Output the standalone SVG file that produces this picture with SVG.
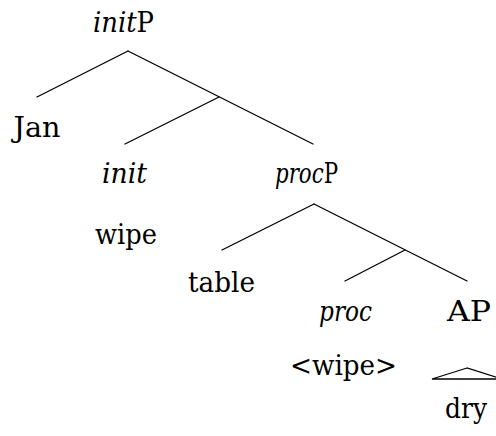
<svg xmlns="http://www.w3.org/2000/svg" width="496" height="436" viewBox="0 0 496 436">
  <style>
    text { font-family: "DejaVu Serif", serif; font-size: 27px; fill: #000; text-anchor: middle; }
    .it { font-style: italic; }
    .edge { stroke: #000; stroke-width: 1.3; fill: none; stroke-linecap: round; }
  </style>
  <rect width="496" height="436" fill="#fff"/>

  <!-- branches -->
  <g id="edges">
    <line class="edge" x1="128" y1="51" x2="37" y2="97"/>
    <line class="edge" x1="128" y1="51" x2="313" y2="144"/>
    <line class="edge" x1="219" y1="97" x2="125" y2="144"/>
    <line class="edge" x1="314" y1="204" x2="222" y2="250"/>
    <line class="edge" x1="314" y1="204" x2="467" y2="281"/>
    <line class="edge" x1="405" y1="250" x2="345" y2="281"/>
    <polygon class="edge" points="467,368 432,379 502,379"/>
  </g>

  <g id="initP"><text x="123.5" y="32" textLength="61" lengthAdjust="spacingAndGlyphs"><tspan class="it">init</tspan>P</text></g>
  <g id="jan"><text x="37" y="137" textLength="47" lengthAdjust="spacingAndGlyphs">Jan</text></g>
  <g id="init"><text class="it" x="124.5" y="183" textLength="45" lengthAdjust="spacingAndGlyphs">init</text></g>
  <g id="wipe"><text x="126" y="244" textLength="62" lengthAdjust="spacingAndGlyphs">wipe</text></g>
  <g id="procP"><text x="306.5" y="183" textLength="63" lengthAdjust="spacingAndGlyphs"><tspan class="it">proc</tspan>P</text></g>
  <g id="table"><text x="221.5" y="292" textLength="67" lengthAdjust="spacingAndGlyphs">table</text></g>
  <g id="proc"><text class="it" x="345.5" y="321" textLength="53" lengthAdjust="spacingAndGlyphs">proc</text></g>
  <g id="AP"><text x="469" y="321" textLength="44" lengthAdjust="spacingAndGlyphs">AP</text></g>
  <g id="wipe-copy"><text x="343.5" y="375" textLength="107" lengthAdjust="spacingAndGlyphs">&lt;wipe&gt;</text></g>
  <g id="dry"><text x="466" y="418" textLength="42" lengthAdjust="spacingAndGlyphs">dry</text></g>
</svg>
